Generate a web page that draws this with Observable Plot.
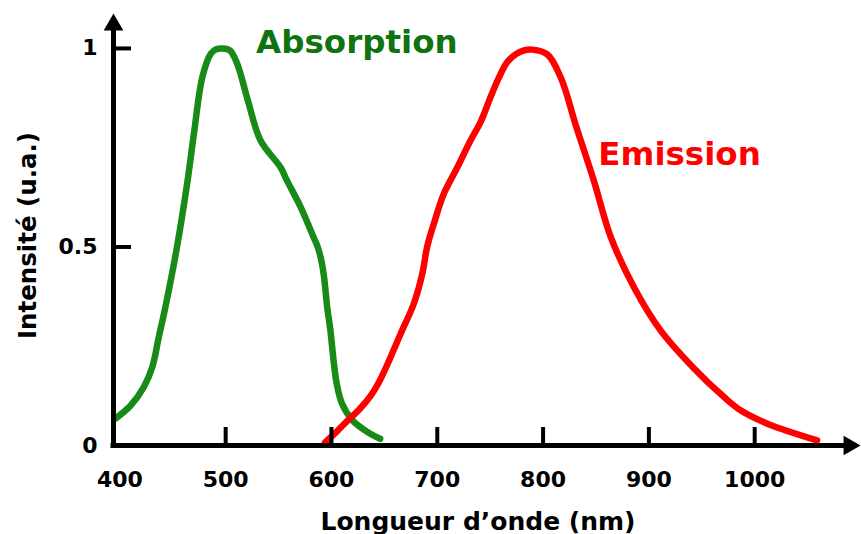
<!DOCTYPE html>
<html>
<head>
<meta charset="utf-8">
<script src="https://cdn.jsdelivr.net/npm/d3@7"></script>
<script src="https://cdn.jsdelivr.net/npm/@observablehq/plot@0.6"></script>
<style>
  html, body { margin: 0; padding: 0; background: #ffffff; }
  #chart svg { display: block; }
</style>
</head>
<body>
<div id="chart"></div>
<script>
// ---- data ----
const absWavelength = [395, 410, 422.6, 430.6, 436.8, 443, 454, 464, 470, 478, 486, 491, 497, 504, 511, 521, 533, 552, 558, 571, 583, 587, 590.5, 593, 596, 599, 602, 605, 610, 620, 634, 646];
const absIntensity  = [0.066, 0.10, 0.147, 0.197, 0.273, 0.348, 0.50, 0.667, 0.785, 0.928, 0.987, 0.998, 1.0, 0.995, 0.961, 0.869, 0.768, 0.70, 0.667, 0.60, 0.525, 0.50, 0.465, 0.424, 0.348, 0.29, 0.214, 0.155, 0.105, 0.063, 0.034, 0.017];

const emWavelength = [594, 605, 615, 626, 637, 645, 653, 665.3, 677.8, 685.8, 690.4, 696.7, 706.2, 718.9, 731.4, 741, 750, 758, 766, 774, 782, 790, 804, 817, 831, 848, 864, 886, 911, 942, 971, 987, 1012, 1059];
const emIntensity  = [0.008, 0.035, 0.062, 0.09, 0.125, 0.16, 0.205, 0.281, 0.357, 0.432, 0.50, 0.558, 0.634, 0.70, 0.768, 0.815, 0.875, 0.925, 0.965, 0.985, 0.995, 0.997, 0.985, 0.925, 0.806, 0.667, 0.525, 0.398, 0.29, 0.196, 0.122, 0.088, 0.055, 0.013];

const seriesNames = ["Absorption", "Emission"];
const xTicks = [400, 500, 600, 700, 800, 900, 1000];
const yTicks = [0, 0.5, 1];
const xTitle = "Longueur d\u2019onde (nm)";
const yTitle = "Intensit\u00e9 (u.a.)";

// series label anchors (data coordinates)
const labelWavelength = [624, 929];
const labelIntensity = [1.014, 0.733];

// ---- layout ----
const W = 861, H = 534;
const mLeft = 113, mRight = 1, mTop = 13, mBottom = 89;
const xDomain = [394, 1100];
const yDomain = [0, 1.088];
const xShaftEnd = 1084;   // where the x-axis arrowhead base sits
const yShaftEnd = 1.045;  // where the y-axis arrowhead base sits
const tickPx = 18;
const innerH = H - mTop - mBottom;
const tickLen = tickPx * (yDomain[1] - yDomain[0]) / innerH;
const innerW = W - mLeft - mRight;
const tickLenX = tickPx * (xDomain[1] - xDomain[0]) / innerW;

const green = "#178a17", greenText = "#0f730f", red = "#ff0000";

const absData = absWavelength.map((x, i) => ({x, y: absIntensity[i]}));
const emData = emWavelength.map((x, i) => ({x, y: emIntensity[i]}));
const labels = seriesNames.map((name, i) => ({name, x: labelWavelength[i], y: labelIntensity[i], color: i === 0 ? greenText : red}));

const headR = 7.3;
const headOff = 5.67;

const chart = Plot.plot({
  width: W,
  height: H,
  marginLeft: mLeft,
  marginRight: mRight,
  marginTop: mTop,
  marginBottom: mBottom,
  x: {domain: xDomain, axis: null},
  y: {domain: yDomain, axis: null},
  style: {fontFamily: "DejaVu Sans", fontWeight: "bold", background: "#ffffff", color: "#000"},
  marks: [
    // curves
    Plot.line(absData, {x: "x", y: "y", stroke: green, strokeWidth: 6.5, curve: "catmull-rom"}),
    Plot.line(emData, {x: "x", y: "y", stroke: red, strokeWidth: 6.5, curve: "catmull-rom"}),
    // axis shafts
    Plot.ruleY([0], {x1: xDomain[0], x2: xShaftEnd, stroke: "#000", strokeWidth: 5, strokeLinecap: "square"}),
    Plot.ruleX([xDomain[0]], {y1: 0, y2: yShaftEnd, stroke: "#000", strokeWidth: 5, strokeLinecap: "square"}),
    // arrowheads
    Plot.dot([0], {x: xShaftEnd, y: 0, symbol: "triangle", r: headR, rotate: 90, fill: "#000", stroke: "none", dx: headOff}),
    Plot.dot([0], {x: xDomain[0], y: yShaftEnd, symbol: "triangle", r: headR, fill: "#000", stroke: "none", dy: -headOff}),
    // ticks (inward)
    Plot.ruleX(xTicks.slice(1), {x: d => d, y1: 0, y2: tickLen, stroke: "#000", strokeWidth: 4}),
    Plot.ruleY(yTicks.slice(1), {y: d => d, x1: xDomain[0], x2: xDomain[0] + tickLenX, stroke: "#000", strokeWidth: 4}),
    // tick labels
    Plot.text(xTicks, {x: d => d, y: 0, dy: 34, text: d => String(d), fontSize: 22, fontWeight: "bold", fill: "#000"}),
    Plot.text(yTicks, {x: xDomain[0], y: d => d, dx: -16, text: d => String(d), textAnchor: "end", fontSize: 22, fontWeight: "bold", fill: "#000"}),
    // axis titles
    Plot.text([xTitle], {frameAnchor: "bottom", textAnchor: "middle", lineAnchor: "middle", dx: -9, dy: 76, fontSize: 25, fontWeight: "bold", fill: "#000"}),
    Plot.text([yTitle], {frameAnchor: "left", textAnchor: "middle", lineAnchor: "middle", rotate: -90, dx: -85, dy: 6, fontSize: 24.5, fontWeight: "bold", fill: "#000"}),
    // series labels
    Plot.text(labels, {x: "x", y: "y", text: "name", fill: "color", fontSize: 32.5, fontWeight: "bold"})
  ]
});

document.getElementById("chart").appendChild(chart);
</script>
</body>
</html>
